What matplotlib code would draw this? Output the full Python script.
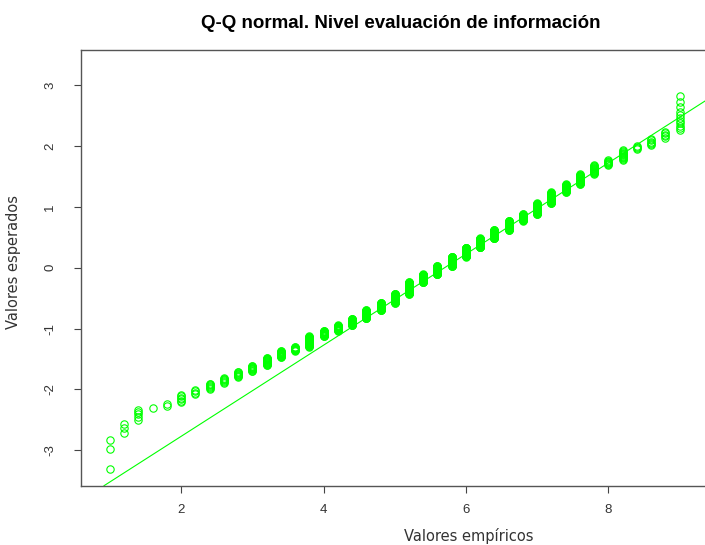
import numpy as np
import matplotlib
matplotlib.use("Agg")
import matplotlib.pyplot as plt
from statistics import NormalDist

plt.rcParams["axes.unicode_minus"] = False

# score values (empirical) and how many cases have each score
scores = [1.0, 1.2, 1.4, 1.6, 1.8, 2.0, 2.2, 2.4, 2.6, 2.8,
          3.0, 3.2, 3.4, 3.6, 3.8, 4.0, 4.2, 4.4, 4.6, 4.8,
          5.0, 5.2, 5.4, 5.6, 5.8, 6.0, 6.2, 6.4, 6.6, 6.8,
          7.0, 7.2, 7.4, 7.6, 7.8, 8.0, 8.2, 8.4, 8.6, 8.8, 9.0]
counts = [3, 3, 5, 1, 2, 6, 4, 7, 7, 9,
          11, 17, 17, 12, 35, 22, 23, 32, 44, 42,
          56, 77, 55, 58, 66, 62, 59, 51, 51, 33,
          48, 40, 24, 25, 17, 8, 13, 4, 6, 5, 11]
# two cases fall right of the cropped edge of the picture
hidden_scores = [10.0, 11.2]
hidden_counts = [1, 1]

title = "Q-Q normal. Nivel evaluación de información"
xlabel = "Valores empíricos"
ylabel = "Valores esperados"
xticks = [2, 4, 6, 8]
yticks = [-3, -2, -1, 0, 1, 2, 3]

# -----------------------------
# Q-Q values (ppoints, a = 1/2)
# -----------------------------
x = np.sort(np.repeat(scores + hidden_scores, counts + hidden_counts))
n = len(x)
nd = NormalDist()
p = (np.arange(1, n + 1) - 0.5) / n
y = np.array([nd.inv_cdf(v) for v in p])

# qqline through the quartiles
q1, q3 = np.quantile(x, [0.25, 0.75])
z = nd.inv_cdf(0.75)
slope = 2 * z / (q3 - q1)

W, H = 705, 545
fig = plt.figure(figsize=(W / 100, H / 100), dpi=100)
ax = fig.add_axes([81 / W, 59.3 / H, (W - 81 + 8) / W, 435.7 / H])

green = "#00ff00"
ax.plot(x, y, "o", mfc="none", mec=green, ms=5.3, mew=0.8)
ax.axline((q1, -z), slope=slope, color=green, lw=0.8)

ax.set_xlim(0.593, 0.593 + (W - 81 + 8) / 71.2)
ax.set_ylim(-3.585, 3.58)
ax.set_xticks(xticks)
ax.set_yticks(yticks)

txt = "#333333"
ax.tick_params(axis="both", direction="out", length=5, width=0.8,
               color="#444444", labelcolor=txt, labelsize=9.5)
ax.tick_params(axis="x", pad=8)
ax.tick_params(axis="y", pad=13)
for lab in ax.get_xticklabels() + ax.get_yticklabels():
    lab.set_family("Liberation Sans")
for lab in ax.get_yticklabels():
    lab.set_rotation(90)
    lab.set_va("center")
for s in ["left", "bottom", "top"]:
    ax.spines[s].set_color("#555555")
    ax.spines[s].set_linewidth(1)
ax.spines["right"].set_visible(False)

fig.text(401 / W, 1 - 27.5 / H, title, ha="center", va="baseline",
         fontsize=13.5, fontweight="bold", family="Liberation Sans")
fig.text(469 / W, 1 - 540.5 / H, xlabel, ha="center", va="baseline",
         fontsize=10.5, color=txt)
fig.text(14 / W, 1 - 262 / H, ylabel, ha="center", va="center",
         rotation=90, fontsize=10.5, color=txt)

fig.savefig("out.png", dpi=100)
